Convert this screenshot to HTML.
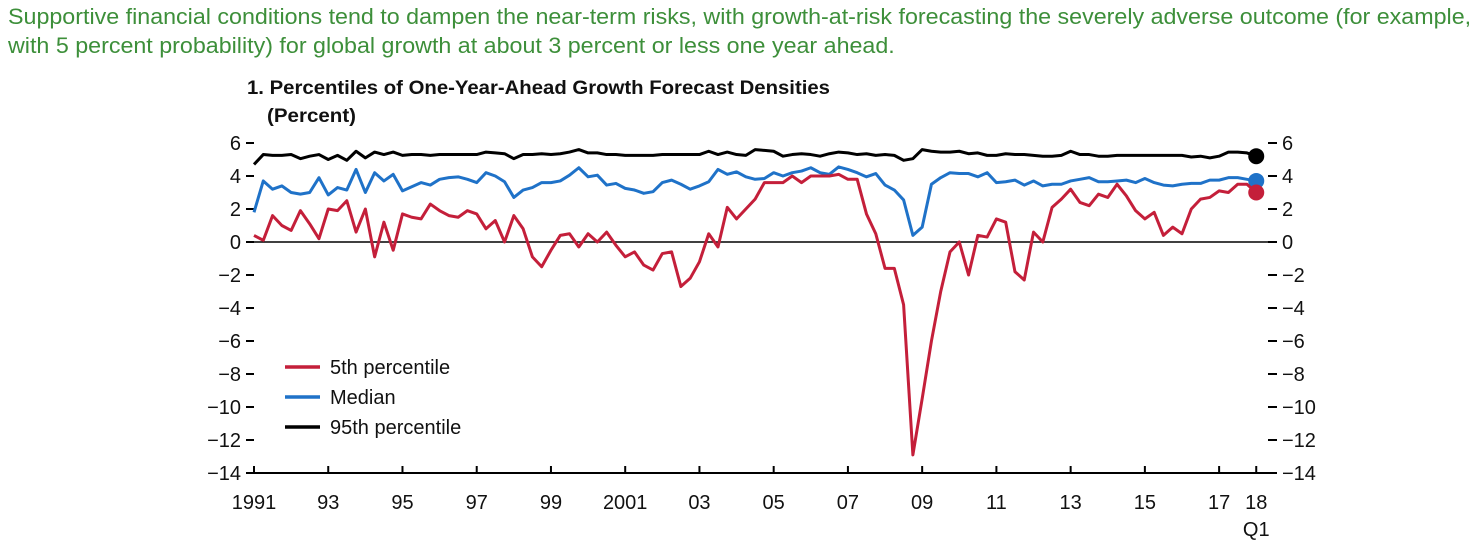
<!DOCTYPE html>
<html><head><meta charset="utf-8"><style>
body{margin:0;background:#fff;width:1483px;height:552px;overflow:hidden;font-family:"Liberation Sans",sans-serif}
.hd{position:absolute;left:8px;top:2px;color:#3d8f3a;font-size:22px;line-height:29px;white-space:nowrap;transform:scaleX(1.057);transform-origin:0 0}
</style></head><body>
<div class="hd">Supportive financial conditions tend to dampen the near-term risks, with growth-at-risk forecasting the severely adverse outcome (for example,<br>with 5 percent probability) for global growth at about 3 percent or less one year ahead.</div>
<svg id="c" width="1483" height="552" style="position:absolute;left:0;top:0"></svg>
<script>
const red=[0.4,0.1,1.6,1.0,0.7,1.9,1.1,0.2,2.0,1.9,
2.5,0.6,2.0,-0.9,1.2,-0.5,1.7,1.5,1.4,2.3,
1.9,1.6,1.5,1.9,1.7,0.8,1.3,0.0,1.6,0.8,
-0.9,-1.5,-0.5,0.4,0.5,-0.3,0.5,0.0,0.6,-0.2,
-0.9,-0.6,-1.4,-1.7,-0.7,-0.6,-2.7,-2.2,-1.2,0.5,
-0.3,2.1,1.4,2.0,2.6,3.6,3.6,3.6,4.0,3.6,
4.0,4.0,4.0,4.1,3.8,3.8,1.7,0.5,-1.6,-1.6,
-3.8,-12.9,-9.5,-6,-3,-0.6,0.0,-2.0,0.4,0.3,
1.4,1.2,-1.8,-2.3,0.6,0.0,2.1,2.6,3.2,2.4,
2.2,2.9,2.7,3.5,2.8,1.9,1.4,1.8,0.4,0.9,
0.5,2.0,2.6,2.7,3.1,3.0,3.5,3.5,3.0];
const median=[1.8,3.7,3.2,3.4,3.0,2.9,3.0,3.9,2.85,3.3,
3.15,4.4,3.0,4.2,3.7,4.1,3.1,3.35,3.6,3.45,
3.8,3.9,3.95,3.8,3.6,4.2,4.0,3.65,2.7,3.15,
3.3,3.6,3.6,3.7,4.05,4.5,3.95,4.05,3.45,3.55,
3.25,3.15,2.95,3.05,3.6,3.75,3.5,3.2,3.4,3.65,
4.4,4.1,4.25,3.95,3.8,3.85,4.2,4.0,4.2,4.3,
4.5,4.2,4.1,4.55,4.4,4.2,3.95,4.15,3.45,3.15,
2.55,0.4,0.9,3.5,3.9,4.2,4.15,4.15,3.95,4.2,
3.6,3.65,3.75,3.45,3.7,3.4,3.5,3.5,3.7,3.8,
3.9,3.65,3.65,3.7,3.75,3.6,3.85,3.6,3.45,3.4,
3.5,3.55,3.55,3.75,3.75,3.9,3.9,3.8,3.7];
const p95=[4.7,5.3,5.25,5.25,5.3,5.05,5.2,5.3,5.0,5.25,
4.95,5.5,5.1,5.45,5.3,5.45,5.25,5.3,5.3,5.25,
5.3,5.3,5.3,5.3,5.3,5.45,5.4,5.35,5.05,5.3,
5.3,5.35,5.3,5.35,5.45,5.6,5.4,5.4,5.3,5.3,
5.25,5.25,5.25,5.25,5.3,5.3,5.3,5.3,5.3,5.5,
5.3,5.45,5.3,5.25,5.6,5.55,5.5,5.2,5.3,5.35,
5.3,5.2,5.35,5.45,5.4,5.3,5.35,5.25,5.3,5.25,
4.95,5.05,5.6,5.5,5.45,5.45,5.5,5.35,5.4,5.25,
5.25,5.35,5.3,5.3,5.25,5.2,5.2,5.25,5.5,5.3,
5.3,5.2,5.2,5.25,5.25,5.25,5.25,5.25,5.25,5.25,
5.25,5.15,5.2,5.1,5.2,5.45,5.45,5.4,5.2];
const yTicks=[6,4,2,0,-2,-4,-6,-8,-10,-12,-14];
const xLabels=["1991","93","95","97","99","2001","03","05","07","09","11","13","15","17","18"];
const xLabelYears=[1991,1993,1995,1997,1999,2001,2003,2005,2007,2009,2011,2013,2015,2017,2018];
const NS="http://www.w3.org/2000/svg";
const svg=document.getElementById('c');
const X=q=>254+q*9.28;
const XY=y=>254+(y-1991)*37.12;
const Y=v=>242-v*16.5;
function mk(t,a,p){const e=document.createElementNS(NS,t);for(const k in a)e.setAttribute(k,a[k]);(p||svg).appendChild(e);return e;}
const fs='font-family:"Liberation Sans",sans-serif';
let t=mk('text',{x:247,y:94,'font-size':19.5,'font-weight':'bold',style:fs,fill:'#111',textLength:583,lengthAdjust:'spacingAndGlyphs'});t.textContent='1. Percentiles of One-Year-Ahead Growth Forecast Densities';


t=mk('text',{x:267,y:122,'font-size':19.5,'font-weight':'bold',style:fs,fill:'#111',textLength:89,lengthAdjust:'spacingAndGlyphs'});t.textContent='(Percent)';


yTicks.forEach(v=>{
 const y=Y(v);const lab=v<0?'\u2212'+(-v):String(v);
 let l=mk('line',{x1:246,x2:254,y1:y,y2:y,stroke:'#000','stroke-width':2});
 
 
 let a=mk('text',{x:241,y:y+7,'text-anchor':'end','font-size':20,style:fs,fill:'#111'});a.textContent=lab;
 
 
 l=mk('line',{x1:1268,x2:1277,y1:y,y2:y,stroke:'#000','stroke-width':2});
 
 
 a=mk('text',{x:1282,y:y+7,'font-size':20,style:fs,fill:'#111'});a.textContent=lab;
 
 
});
let z=mk('line',{x1:254,x2:1268,y1:Y(0),y2:Y(0),stroke:'#000','stroke-width':1.5});


let ax=mk('line',{x1:246,x2:1277,y1:Y(-14),y2:Y(-14),stroke:'#000','stroke-width':2});


xLabelYears.forEach((yr,i)=>{
 const x=XY(yr);
 const l=mk('line',{x1:x,x2:x,y1:Y(-14),y2:Y(-14)-7,stroke:'#000','stroke-width':2});
 
 
 const a=mk('text',{x:x,y:509,'text-anchor':'middle','font-size':20,style:fs,fill:'#111'});a.textContent=xLabels[i];
 
 
});
t=mk('text',{x:XY(2018),y:536,'text-anchor':'middle','font-size':20,style:fs,fill:'#111'});t.textContent='Q1';


function series(d,col,name){
 const p=mk('polyline',{points:d.map((v,i)=>X(i)+','+Y(v)).join(' '),fill:'none',stroke:col,'stroke-width':3,'stroke-linejoin':'round'});
 
 
 const c=mk('circle',{cx:X(d.length-1),cy:Y(d[d.length-1]),r:8,fill:col});
 
 
}
series(p95,'#000','p95');
series(median,'#1f72c8','median');
series(red,'#c41f3a','p5');
[['5th percentile','#c41f3a',367],['Median','#1f72c8',397],['95th percentile','#000',427]].forEach(([n,c,y])=>{
 const g=mk('g',{});
 
 
 mk('line',{x1:285,x2:320,y1:y,y2:y,stroke:c,'stroke-width':3.5},g);
 const a=mk('text',{x:330,y:y+7,'font-size':20,style:fs,fill:'#111'},g);a.textContent=n;
});
</script>
</body></html>
